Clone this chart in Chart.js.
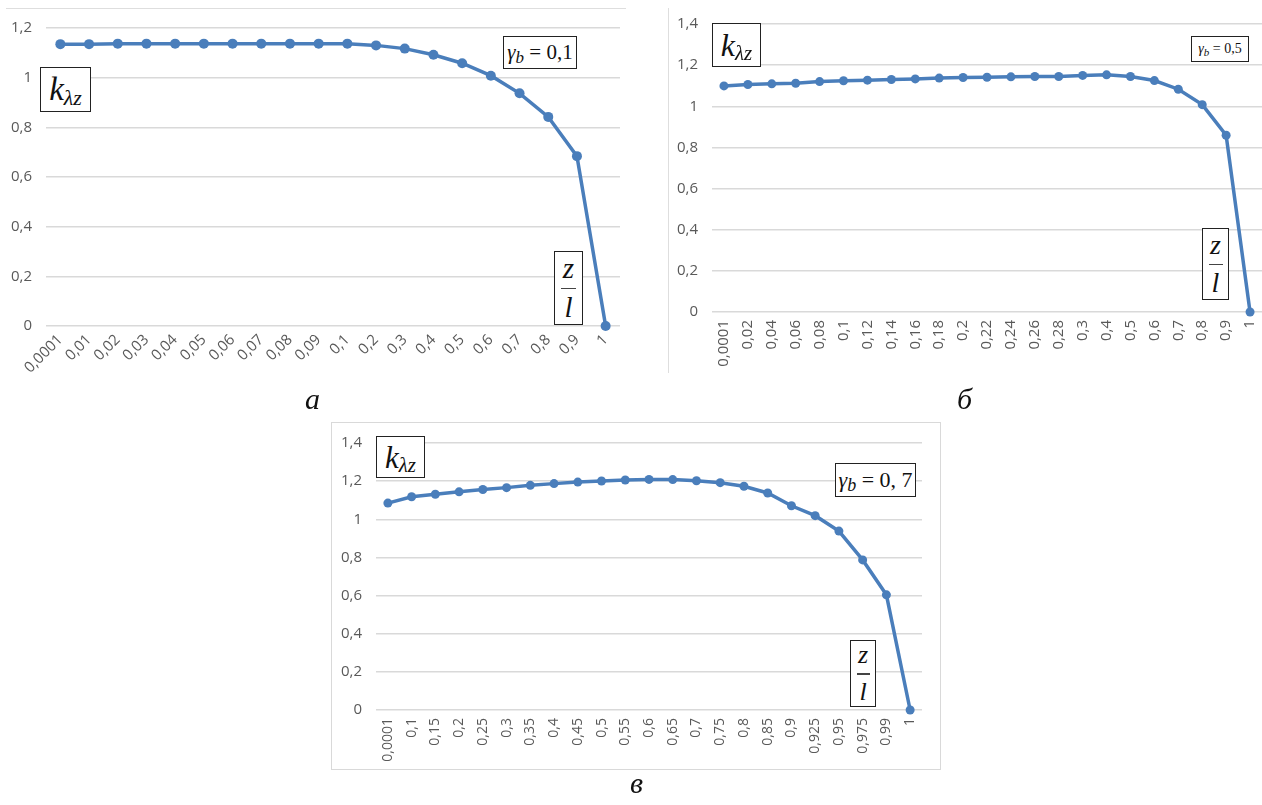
<!DOCTYPE html>
<html>
<head>
<meta charset="utf-8">
<script src="https://cdn.jsdelivr.net/npm/chart.js@4.4.1/dist/chart.umd.min.js"></script>
<style>
  body { margin: 0; width: 1262px; height: 805px; background: #fff; position: relative; overflow: hidden; }
  canvas { position: absolute; }
  .line { position: absolute; background: #dedede; }
  .frame { position: absolute; border: 1px solid #d9d9d9; box-sizing: border-box; }
  .box { position: absolute; border: 1.5px solid #222; background: #fff; box-sizing: border-box;
         font-family: "Liberation Serif", "DejaVu Serif", serif; color: #111; white-space: nowrap;
         display: flex; align-items: center; justify-content: center; line-height: 1; }
  .box i { font-style: italic; }
  .sub { display: inline-block; font-style: italic; }
  .frac { flex-direction: column; }
  .frac .bar { display: block; width: 15px; height: 1.5px; background: #444; margin: 5px 0 4px; }
  .cap { position: absolute; font-family: "Liberation Serif", serif; font-style: italic; font-size: 30px; color: #111; }
</style>
</head>
<body>

<div class="line" style="left:6px; top:8px; width:620px; height:1px;"></div>
<div class="line" style="left:668px; top:8px; width:1px; height:365px;"></div>
<div class="frame" style="left:331px; top:422px; width:610px; height:348px;"></div>

<canvas id="chartA" width="630" height="385" style="left:0; top:0;"></canvas>
<canvas id="chartB" width="640" height="385" style="left:640px; top:0;"></canvas>
<canvas id="chartC" width="610" height="350" style="left:330px; top:420px;"></canvas>

<!-- chart a labels -->
<div class="box" style="left:40px; top:67px; width:51px; height:45px; font-size:33px;"><i>k</i><span class="sub" style="font-size:22px; transform:translateY(8px);">λz</span></div>
<div class="box" style="left:503px; top:36px; width:74px; height:33px; font-size:21px;"><i>γ</i><span class="sub" style="font-size:17px; transform:translateY(5px);">b</span>&nbsp;= 0,1</div>
<div class="box frac" style="left:554px; top:251px; width:29px; height:74px; font-size:29px;"><i>z</i><span class="bar"></span><i>l</i></div>
<div class="cap" style="left:305px; top:382px;">а</div>

<!-- chart б labels -->
<div class="box" style="left:712px; top:23px; width:49px; height:44px; font-size:32px;"><i>k</i><span class="sub" style="font-size:21px; transform:translateY(8px);">λz</span></div>
<div class="box" style="left:1191px; top:36px; width:58px; height:26px; font-size:14px;"><i>γ</i><span class="sub" style="font-size:11px; transform:translateY(3px);">b</span>&nbsp;= 0,5</div>
<div class="box frac" style="left:1202px; top:228px; width:27px; height:72px; font-size:28px;"><i>z</i><span class="bar" style="width:14px;"></span><i>l</i></div>
<div class="cap" style="left:957px; top:382px;">б</div>

<!-- chart в labels -->
<div class="box" style="left:376px; top:436px; width:49px; height:42px; font-size:31px;"><i>k</i><span class="sub" style="font-size:21px; transform:translateY(8px);">λz</span></div>
<div class="box" style="left:835px; top:463px; width:81px; height:34px; font-size:22px;"><i>γ</i><span class="sub" style="font-size:18px; transform:translateY(5px);">b</span>&nbsp;= 0, 7</div>
<div class="box frac" style="left:850px; top:640px; width:26px; height:67px; font-size:26px;"><i>z</i><span class="bar" style="width:13px;"></span><i>l</i></div>
<div class="cap" style="left:630px; top:766px;">в</div>

<script>
// z/l categories and k_λz values for each γb
const zA = [0.0001, 0.01, 0.02, 0.03, 0.04, 0.05, 0.06, 0.07, 0.08, 0.09, 0.1, 0.2, 0.3, 0.4, 0.5, 0.6, 0.7, 0.8, 0.9, 1];
const kA = [1.135, 1.135, 1.137, 1.137, 1.137, 1.137, 1.137, 1.137, 1.137, 1.137, 1.137, 1.130, 1.117, 1.092, 1.058, 1.008, 0.937, 0.842, 0.684, 0];

const zB = [0.0001, 0.02, 0.04, 0.06, 0.08, 0.1, 0.12, 0.14, 0.16, 0.18, 0.2, 0.22, 0.24, 0.26, 0.28, 0.3, 0.4, 0.5, 0.6, 0.7, 0.8, 0.9, 1];
const kB = [1.099, 1.106, 1.109, 1.112, 1.120, 1.124, 1.127, 1.130, 1.133, 1.137, 1.140, 1.141, 1.143, 1.145, 1.145, 1.150, 1.153, 1.145, 1.125, 1.083, 1.008, 0.859, 0];

const zC = [0.0001, 0.1, 0.15, 0.2, 0.25, 0.3, 0.35, 0.4, 0.45, 0.5, 0.55, 0.6, 0.65, 0.7, 0.75, 0.8, 0.85, 0.9, 0.925, 0.95, 0.975, 0.99, 1];
const kC = [1.085, 1.118, 1.131, 1.144, 1.156, 1.166, 1.178, 1.187, 1.195, 1.201, 1.206, 1.209, 1.208, 1.202, 1.192, 1.173, 1.138, 1.071, 1.019, 0.938, 0.787, 0.604, 0];

const blue = "#4a7ebb";
const tickGray = "#595959";

// comma as decimal separator
const fmt = v => String(Math.round(v * 10000) / 10000).replace(".", ",");

function makeChart(id, zs, ks, o) {
  return new Chart(document.getElementById(id), {
    type: "line",
    data: {
      labels: zs.map(fmt),
      datasets: [{
        data: ks,
        borderColor: blue,
        backgroundColor: blue,
        borderWidth: o.lw,
        pointRadius: o.pr,
        pointBorderWidth: 0,
        tension: 0,
        clip: false
      }]
    },
    options: {
      responsive: false,
      animation: false,
      layout: { padding: o.pad },
      plugins: { legend: { display: false }, tooltip: { enabled: false } },
      scales: {
        x: {
          offset: true,
          grid: { display: false, drawTicks: false },
          border: { display: false },
          ticks: {
            autoSkip: false, minRotation: o.rot, maxRotation: o.rot, padding: o.xpad,
            color: tickGray, font: { family: "Open Sans", size: o.xfs }
          },
          afterFit: s => { s.height = o.xh; }
        },
        y: {
          min: 0, max: o.ymax,
          grid: { color: "#d9d9d9", lineWidth: 1.5, drawTicks: false },
          border: { display: false },
          ticks: {
            stepSize: 0.2, padding: o.ypad, color: tickGray,
            font: { family: "Open Sans", size: o.yfs },
            callback: v => fmt(Math.round(v * 10) / 10)
          },
          afterFit: s => { s.width = o.yw; }
        }
      }
    }
  });
}

// а: γb = 0,1
makeChart("chartA", zA, kA, {
  pad: { top: 28, right: 10, left: 0, bottom: 0 },
  yw: 46, xh: 59, ymax: 1.2, rot: 45, xpad: 5, xfs: 15, yfs: 15, ypad: 14, lw: 3.5, pr: 5
});

// б: γb = 0,5
makeChart("chartB", zB, kB, {
  pad: { top: 24, right: 18, left: 0, bottom: 0 },
  yw: 72, xh: 73, ymax: 1.4, rot: 90, xpad: 8, xfs: 15, yfs: 15, ypad: 14, lw: 3.5, pr: 4.5
});

// в: γb = 0,7
makeChart("chartC", zC, kC, {
  pad: { top: 20, right: 18, left: 0, bottom: 0 },
  yw: 46, xh: 60, ymax: 1.4, rot: 90, xpad: 8, xfs: 14, yfs: 15, ypad: 14, lw: 3.5, pr: 4.5
});
</script>
</body>
</html>
